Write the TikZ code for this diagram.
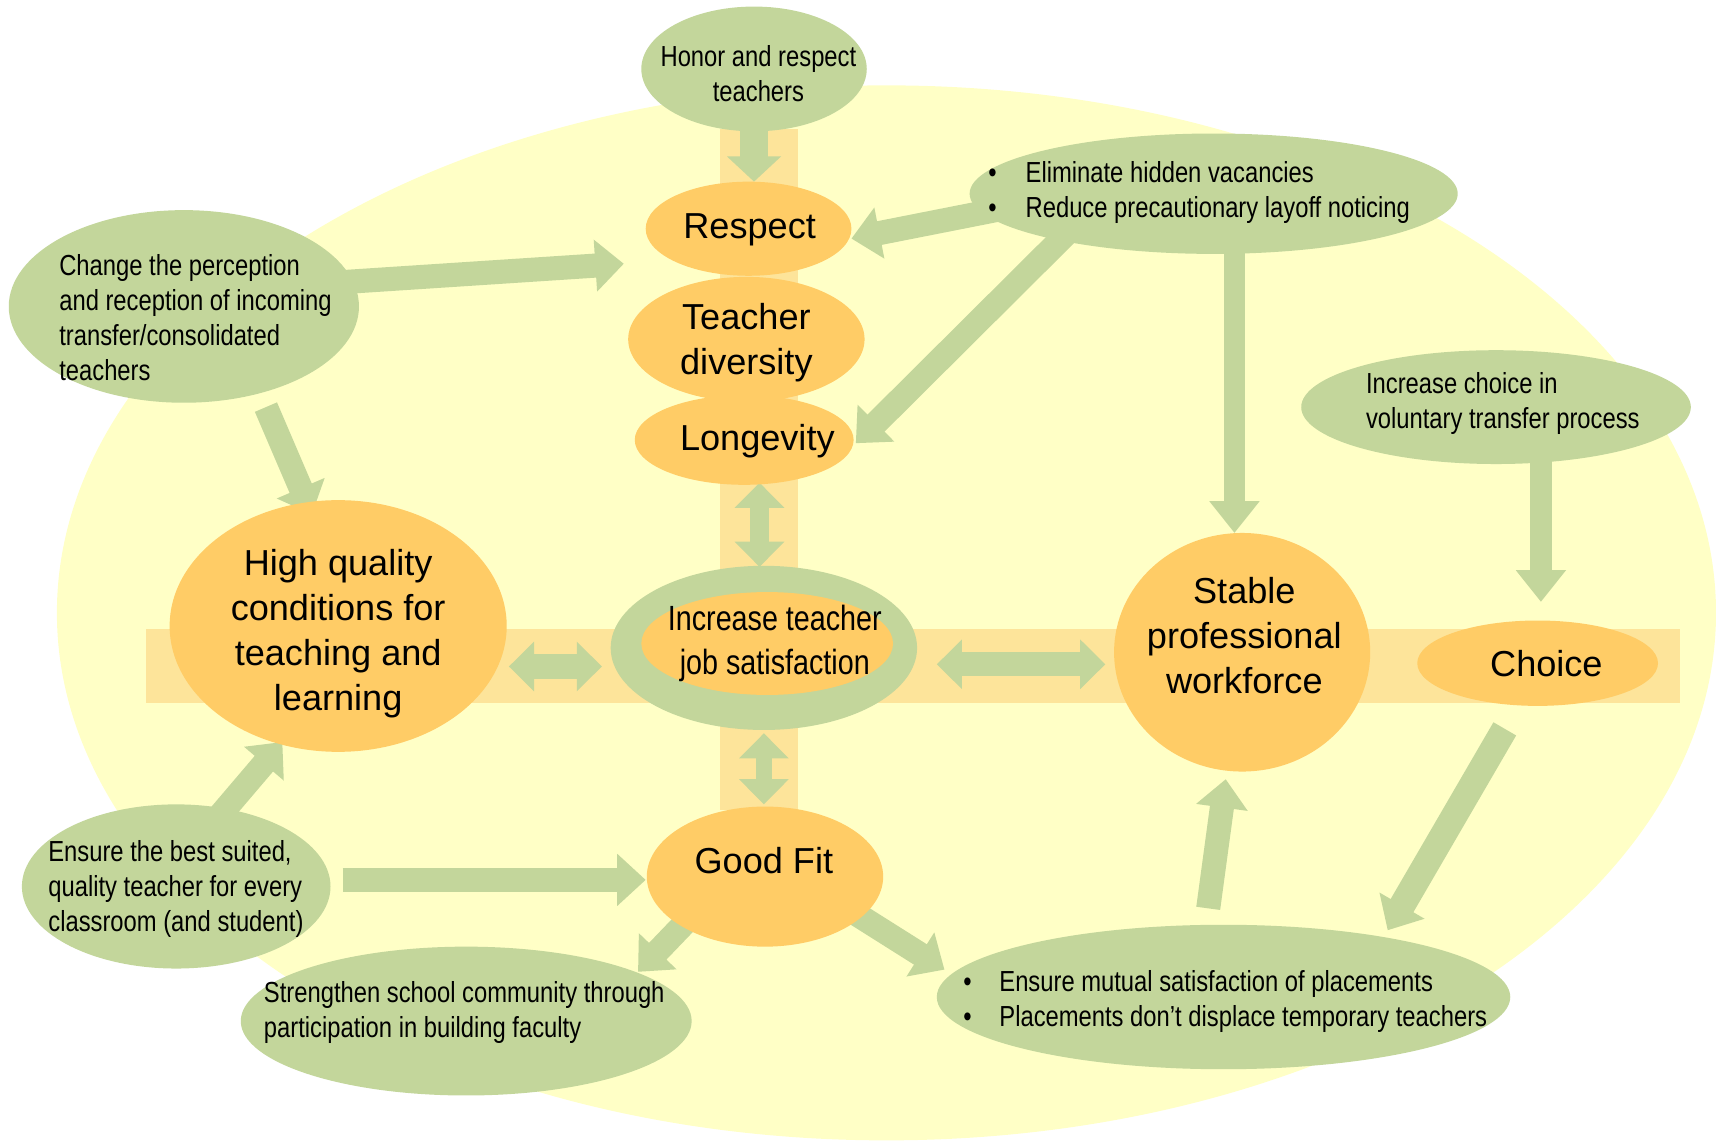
\documentclass[tikz,border=0pt]{standalone}
\usepackage{fontspec}
\setmainfont{Liberation Sans}
\newfontfamily\narrow[FakeStretch=0.82]{Liberation Sans}
\usetikzlibrary{shapes.geometric,arrows.meta,calc}
\pgfdeclarelayer{bg}
\pgfdeclarelayer{arr}
\pgfsetlayers{bg,arr,main}
\definecolor{grn}{HTML}{C3D69B}
\definecolor{org}{HTML}{FFCC66}
\definecolor{bgy}{HTML}{FFFFC6}
\definecolor{bandc}{HTML}{FDE49A}
\begin{document}
\begin{tikzpicture}[x=1pt,y=-1pt,
  ell/.style={ellipse,inner sep=0pt,outer sep=0pt,draw=none},
  gell/.style={ell,fill=grn},
  oell/.style={ell,fill=org},
  ot/.style={inner sep=0pt,align=center,font=\fontsize{33}{41}\selectfont},
  gt/.style={inner sep=0pt,font=\narrow\fontsize{26.5}{32}\selectfont},
  blk/.style={draw=grn,line width=22pt,-{Triangle[width=46pt 0,length=26pt 0]}},
  vblk/.style={draw=grn,line width=20pt,-{Triangle[width=44pt 0,length=29pt 0]}},
  dblk/.style={draw=grn,line width=#1,{Triangle[width=44pt 0,length=23pt 0]}-{Triangle[width=44pt 0,length=23pt 0]}},
]
\useasboundingbox (0,0) rectangle (1568,1043);
\begin{pgfonlayer}{bg}
\fill[bgy] (810,560) ellipse [x radius=758pt, y radius=482pt];
\fill[bandc] (133,575) rectangle (1535,642);
\fill[bandc] (658,118) rectangle (729,740);
\end{pgfonlayer}

% green idea ellipses
\node[gell,minimum width=206pt,minimum height=114pt] (hon) at (689,63) {};
\node[gell,minimum width=320pt,minimum height=176pt] (chg) at (168,280) {};
\node[gell,minimum width=446pt,minimum height=110pt] (elim) at (1109,177) {};
\node[gell,minimum width=356pt,minimum height=104pt] (ich) at (1367,372) {};
\node[gell,minimum width=282pt,minimum height=150pt] (best) at (161,810) {};
\node[gell,minimum width=412pt,minimum height=136pt] (str) at (426,933) {};
\node[gell,minimum width=524pt,minimum height=132pt] (mut) at (1118,911) {};

% orange outcome ellipses
\node[oell,minimum width=188pt,minimum height=86pt] (resp) at (684,209) {};
\node[oell,minimum width=216pt,minimum height=114pt] (div) at (682,310) {};
\node[oell,minimum width=200pt,minimum height=82pt] (lon) at (680,402) {};
\node[gell,minimum width=280pt,minimum height=150pt] (job) at (698,592) {};
\node[oell,minimum width=230pt,minimum height=94pt] (jobin) at (701,588) {};
\node[oell,minimum width=308pt,minimum height=230pt] (hq) at (309,572) {};
\node[oell,minimum width=234pt,minimum height=218pt] (stab) at (1135,596) {};
\node[oell,minimum width=220pt,minimum height=78pt] (cho) at (1405,606) {};
\node[oell,minimum width=216pt,minimum height=128pt] (gf) at (699,801) {};

% texts
\node[ot] (resp-t) at (685,210) {Respect};
\node[ot] (div-t) at (682,313) {Teacher\\diversity};
\node[ot] (lon-t) at (692,403) {Longevity};
\node[ot] (hq-t) at (309,579) {High quality\\conditions for\\teaching and\\learning};
\node[ot] (stab-t) at (1137,581) {Stable\\professional\\workforce};
\node[ot] (cho-t) at (1413,606) {Choice};
\node[ot] (gf-t) at (698,786) {Good Fit};
\node[gt,align=center] (hon-t) at (693,67) {Honor and respect\\teachers};
\node[gt,align=center,font=\narrow\fontsize{32}{40}\selectfont] (job-t) at (708,588) {Increase teacher\\job satisfaction};
\node[gt,align=left,anchor=west] (chg-t) at (54,290) {Change the perception\\and reception of incoming\\transfer/consolidated\\teachers};
\node[gt,align=left,anchor=west] (elim-t) at (903,176) {\makebox[34pt][l]{\textbullet}Eliminate hidden vacancies\\\makebox[34pt][l]{\textbullet}Reduce precautionary layoff noticing};
\node[gt,align=left,anchor=west] (ich-t) at (1248,369) {Increase choice in\\voluntary transfer process};
\node[gt,align=left,anchor=west] (best-t) at (44,812) {Ensure the best suited,\\quality teacher for every\\classroom (and student)};
\node[gt,align=left,anchor=west] (str-t) at (241,925) {Strengthen school community through\\participation in building faculty};
\node[gt,align=left,anchor=west] (mut-t) at (880,915) {\makebox[33pt][l]{\textbullet}Ensure mutual satisfaction of placements\\\makebox[33pt][l]{\textbullet}Placements don’t displace temporary teachers};

% block arrows
\begin{pgfonlayer}{arr}
\draw[blk,line width=25pt,-{Triangle[width=48pt 0,length=23pt 0]}] ($(hon.south)+(0,-6)$) -- (hon.south |- resp.north);
\draw[blk] ($(elim.west)+(34,13)$) -- ($(resp.east)+(0,9)$);
\draw[blk] ($(chg.east)+(-18,-22)$) -- ($(resp.west)+(-20,32)$);
\draw[blk] ($(elim.south)+(-131,-22)$) -- ($(lon.east)+(2,3)$);
\draw[vblk] ($(elim.south)+(19,-8)$) -- ($(stab.north)+(-7,0)$);
\draw[vblk] ($(ich.south)+(41,-6)$) -- ($(cho.north)+(3,-17)$);
\draw[blk] ($(chg.south)+(75,4)$) -- ($(hq.north)+(-24,13)$);
\draw[dblk=17pt] ($(lon.south)+(14,-2)$) -- ($(job.north)+(-4,1)$);
\draw[dblk=15pt] ($(job.south)+(0,3)$) -- ($(gf.north)+(-1,-2)$);
\draw[dblk=22pt] ($(hq.east)+(2,37)$) -- ($(job.west)+(-8,17)$);
\draw[dblk=22pt] ($(job.east)+(18,15)$) -- ($(stab.west)+(-8,11)$);
\draw[blk] ($(best.north)+(34,17)$) -- ($(hq.south)+(-51,-9)$);
\draw[blk] ($(best.east)+(11,-6)$) -- ($(gf.west)+(-1,3)$);
\draw[blk] ($(gf.south)+(-70,-25)$) -- ($(str.north)+(157,23)$);
\draw[blk] ($(gf.south)+(80,-32)$) -- ($(mut.north)+(-255,41)$);
\draw[blk] ($(mut.north)+(-14,-15)$) -- ($(stab.south)+(-15,7)$);
\draw[blk,line width=24pt] ($(cho.south)+(-30,21)$) -- ($(mut.north)+(150,5)$);
\end{pgfonlayer}
\end{tikzpicture}
\end{document}
